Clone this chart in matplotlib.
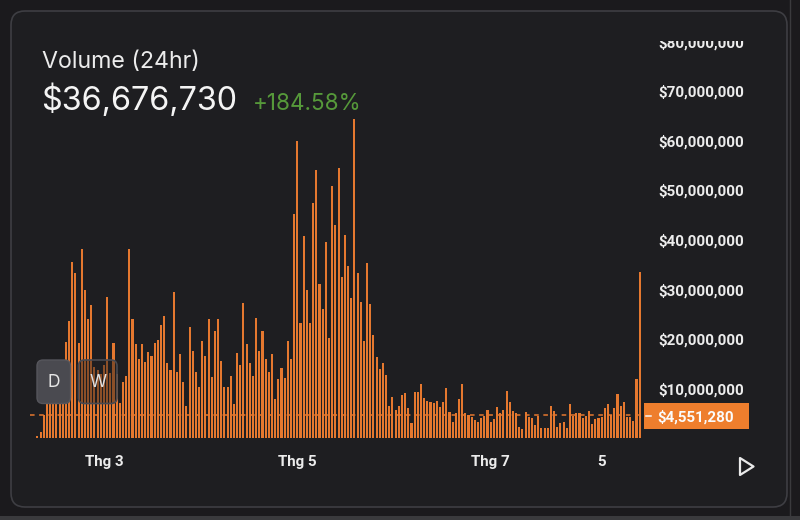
import matplotlib
matplotlib.use("Agg")
import matplotlib.pyplot as plt
from matplotlib.patches import FancyBboxPatch, Rectangle, Polygon
from matplotlib.transforms import Bbox, offset_copy
import numpy as np

# ---------------- data ----------------
# daily trading volume, millions of USD
daily_volume_musd = [
    0.5, 1.3, 4.6, 8, 9, 10, 11, 12, 14,
    19.4, 23.6, 35.5, 33.3, 19.1, 38.2, 29.8, 24.0, 26.8, 14.3, 13.7, 13.0, 14.7,
    28.5, 13.1, 19.2, 13.0, 7.0, 11.3, 12.6, 38.2, 24.1, 19.0, 15.9, 19.0, 15.4,
    17.3, 16.6, 19.2,
    19.8, 22.8, 24.6, 15.1, 13.7, 29.4, 13.4, 16.9, 11.4, 6.5, 22.4, 17.6, 13.4,
    10.3, 19.6, 16.5, 24.1, 12.4, 21.6, 24.1, 15.6, 10.2, 10.2, 12.5, 6.9, 17.1,
    14.7, 27.2, 18.9, 15.2, 12.5, 24.3, 17.6, 21.6, 15.9, 13.3, 16.9, 7.8, 12.0,
    14.2, 12.2, 19.6, 15.9, 45.2, 59.9, 23.3, 40.7, 29.8, 23.3, 47.5, 54.0, 31.0,
    26.1, 39.6, 20.2, 50.9, 42.9, 54.5, 32.5, 40.9, 34.7, 28.3, 64.3, 33.3, 27.5,
    19.6, 35.4, 27.0, 20.8, 16.3, 13.9, 15.1, 12.8, 6.5, 8.2, 5.6, 6.5, 8.7,
    9.1, 6.0, 3.0, 9.3, 9.3, 10.8, 8.0, 7.5, 7.2, 7.0, 7.5, 6.2, 7.2, 10.0, 5.3,
    3.3, 5.0, 7.8, 10.8, 5.1, 4.6, 4.3, 3.6, 3.3, 4.1, 4.5, 5.6, 3.3, 3.8, 6.2,
    5.1, 5.6, 9.5, 7.2, 5.5, 5.0, 2.3, 1.8,
    5.3, 4.2, 4.0, 2.6, 4.4, 2.1, 2.0, 2.1, 6.5, 5.5, 2.3, 3.0, 3.2, 2.0, 6.8,
    4.4, 5.1, 5.0, 4.0, 4.4, 5.4, 2.8, 3.9, 4.0, 4.2, 6.1, 6.8, 4.6, 6.1, 8.8,
    6.5, 7.3, 4.3, 4.2, 3.4, 12.0, 33.5,
]
x_tick_days = [21, 82, 143, 178]
x_tick_labels = ["Thg 3", "Thg 5", "Thg 7", "5"]
y_ticks_musd = [10, 20, 30, 40, 50, 60, 70, 80]
reference_value = 4551280
title_text = "Volume (24hr)"
headline_text = "$36,676,730"
change_text = "+184.58%"
buttons = ["D", "W"]

# ---------------- style ----------------
W, H = 800, 520
BG = "#1b1a1d"
CARD = "#1e1e21"
EDGE = "#3e3e43"
ORANGE = "#e5782f"
BOX = "#ee7e2d"
TXT = "#ececec"
GREEN = "#56993a"
LABEL_FONT = dict(fontfamily="Roboto", fontweight="bold", fontsize=10.9)

fig = plt.figure(figsize=(8, 5.2), dpi=100)
fig.patch.set_facecolor(BG)


def px_rect(x0, y0, x1, y1):
    return [x0 / W, 1 - y1 / H, (x1 - x0) / W, (y1 - y0) / H]


# background card
bg = fig.add_axes([0, 0, 1, 1], zorder=0)
bg.set_xlim(0, W)
bg.set_ylim(H, 0)
bg.axis("off")
bg.add_patch(FancyBboxPatch((11, 11), 776, 496,
                            boxstyle="round,pad=0,rounding_size=14",
                            fc=CARD, ec=EDGE, lw=1.2))
bg.add_patch(Rectangle((0, 516), W, 4, fc="#3a3a3d", ec="none"))
bg.plot([789.5, 789.5], [0, 516], color="#3a3a3d", lw=1)

# main chart axes
ax = fig.add_axes(px_rect(30, 30, 645, 438), zorder=1)
ax.set_facecolor("none")
idx = np.arange(len(daily_volume_musd))
ax.bar(idx, daily_volume_musd, width=0.66, color=ORANGE, lw=0)
ax.set_xlim(-2.33, 191.67)
ax.set_ylim(0, 82.34)
for s in ax.spines.values():
    s.set_visible(False)

ax.axhline(reference_value / 1e6, color=ORANGE, lw=1.1, ls=(0, (3, 3)))

# y labels on the right, placed through the data scale; top one cut off
ax.set_yticks([])
ytrans = offset_copy(ax.get_yaxis_transform(), fig=fig, x=13, y=0, units="dots")
clip = Bbox.from_extents(0, 0, W, H - 41)
for v in y_ticks_musd:
    t = ax.text(1.0, v, f"${v * 1_000_000:,.0f}", transform=ytrans,
                ha="left", va="center_baseline", color=TXT, **LABEL_FONT)
    t.set_clip_on(True)
    t.set_clip_box(clip)

ax.set_xticks(x_tick_days)
ax.set_xticklabels(x_tick_labels, color=TXT, **LABEL_FONT)
ax.tick_params(axis="x", length=0, pad=12.2)

# overlay axes for UI elements
ov = fig.add_axes([0, 0, 1, 1], zorder=2)
ov.set_xlim(0, W)
ov.set_ylim(H, 0)
ov.axis("off")
ov.patch.set_alpha(0)

ov.text(42, 68.3, title_text, fontfamily="Inter", fontsize=16.7, color=TXT,
        va="baseline", ha="left")
ov.text(41, 110, headline_text, fontfamily="Inter", fontsize=23.3, color="#f4f4f4",
        va="baseline", ha="left")
ov.text(253, 110, change_text, fontfamily="Inter", fontsize=16.2, color=GREEN,
        va="baseline", ha="left")

# reference value box
ov.add_patch(Rectangle((644, 403), 105, 25.5, fc=BOX, ec="none"))
ov.plot([645.5, 650.5], [415.7, 415.7], color="#f5f5f5", lw=1.1)
ov.text(657, 416, f"${reference_value:,.0f}", color="#fbfbfb",
        va="center_baseline", ha="left", **LABEL_FONT)

# D / W buttons
ov.add_patch(FancyBboxPatch((37, 360), 33.5, 43.5,
                            boxstyle="round,pad=0,rounding_size=6",
                            fc="#4a4a50", ec="#56565c", lw=1))
ov.text(53.7, 382.5, buttons[0], fontfamily="Inter", fontsize=12.5, color="#e6e6e6",
        va="center", ha="center")
ov.add_patch(FancyBboxPatch((78.5, 360), 38.5, 43.5,
                            boxstyle="round,pad=0,rounding_size=6",
                            fc=(0.12, 0.12, 0.13, 0.45), ec="#4a4a50", lw=1.2))
ov.text(97.7, 382.5, buttons[1], fontfamily="Inter", fontsize=12.5, color="#e0e0e0",
        va="center", ha="center")

# play triangle
ov.add_patch(Polygon([(740, 458), (740, 475), (753.5, 466.5)], closed=True,
                     fill=False, ec="#eaeaea", lw=1.6, joinstyle="round"))

fig.savefig("out.png", dpi=100, facecolor=fig.get_facecolor())
